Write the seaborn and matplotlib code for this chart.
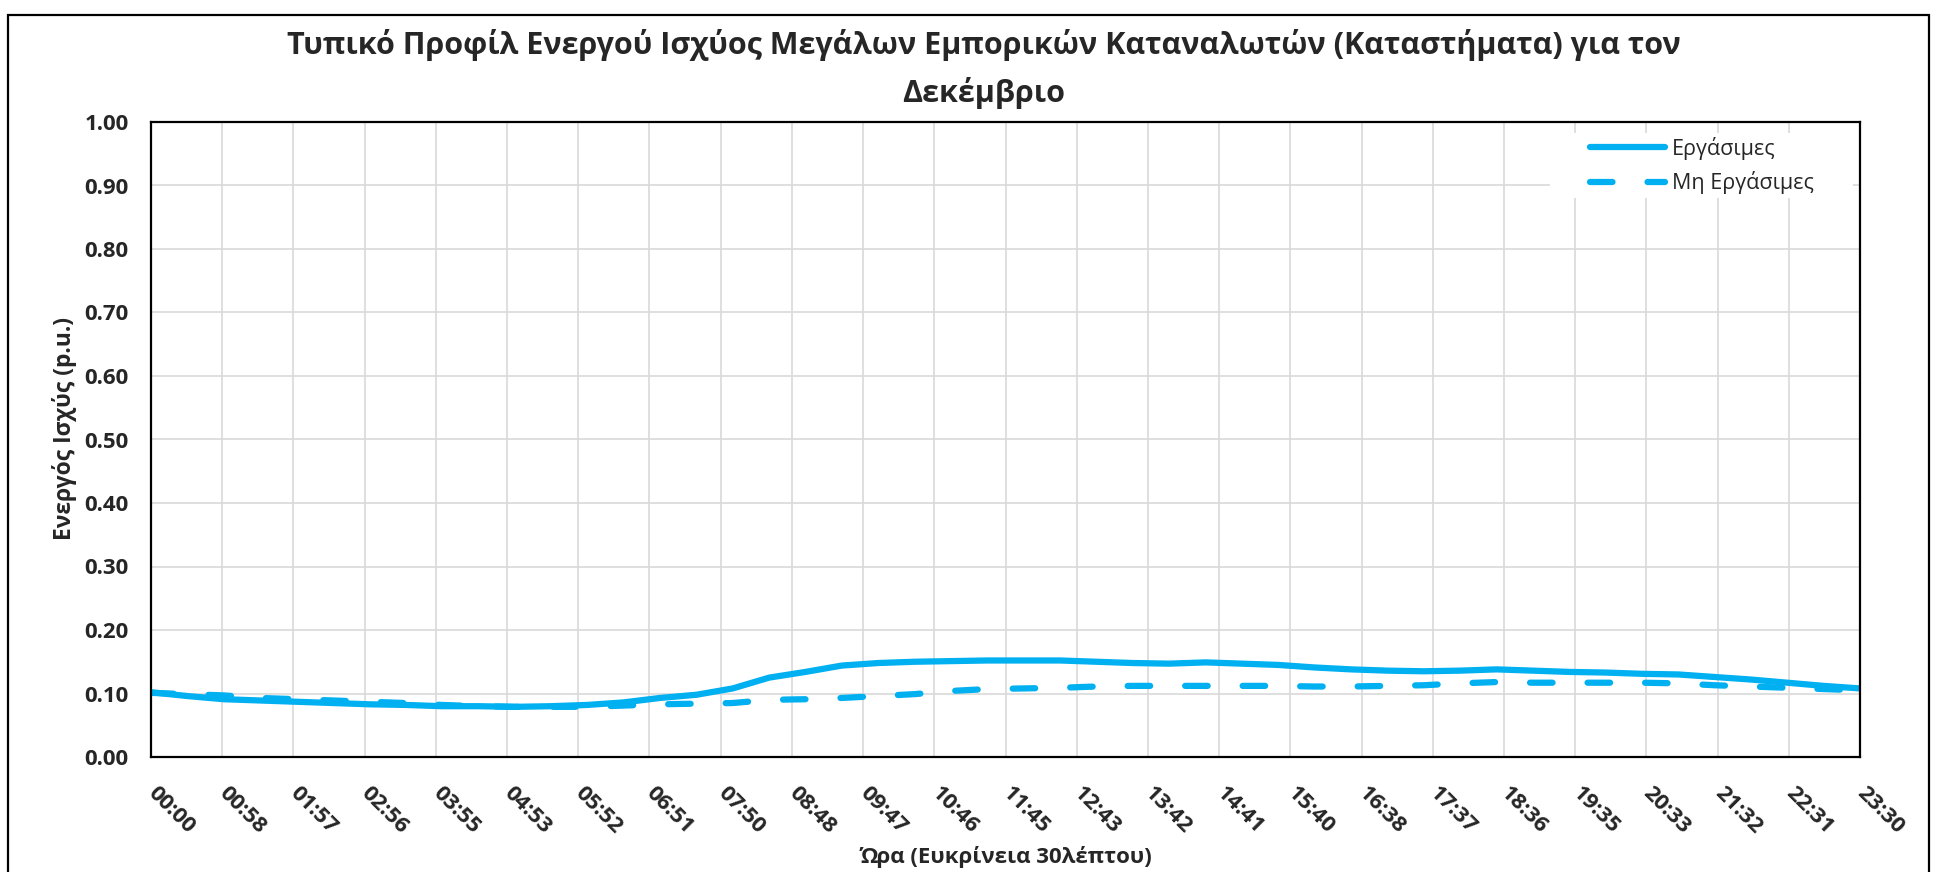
import numpy as np
import pandas as pd
import matplotlib.pyplot as plt
import seaborn as sns
from matplotlib.patches import Rectangle
from matplotlib.lines import Line2D

# half-hour resolution, x in hours
hours = np.arange(0, 24, 0.5)

working = [0.102, 0.096, 0.091, 0.089, 0.087, 0.085, 0.083, 0.082,
           0.080, 0.080, 0.079, 0.080, 0.082, 0.086, 0.093, 0.098,
           0.108, 0.125, 0.134, 0.144, 0.148, 0.150, 0.151, 0.152,
           0.152, 0.152, 0.150, 0.148, 0.147, 0.149, 0.147, 0.145,
           0.141, 0.138, 0.136, 0.135, 0.136, 0.138, 0.136, 0.134,
           0.133, 0.131, 0.130, 0.126, 0.122, 0.117, 0.112, 0.108]

non_working = [0.101, 0.099, 0.097, 0.093, 0.091, 0.089, 0.087, 0.085,
               0.082, 0.080, 0.079, 0.079, 0.079, 0.081, 0.083, 0.084,
               0.085, 0.090, 0.091, 0.093, 0.096, 0.099, 0.104, 0.107,
               0.108, 0.109, 0.111, 0.112, 0.112, 0.112, 0.112, 0.112,
               0.111, 0.111, 0.112, 0.113, 0.116, 0.118, 0.117, 0.117,
               0.117, 0.117, 0.116, 0.113, 0.111, 0.109, 0.107, 0.105]

series_names = ["Εργάσιμες", "Μη Εργάσιμες"]

x_tick_labels = ["00:00", "00:58", "01:57", "02:56", "03:55", "04:53", "05:52",
                 "06:51", "07:50", "08:48", "09:47", "10:46", "11:45", "12:43",
                 "13:42", "14:41", "15:40", "16:38", "17:37", "18:36", "19:35",
                 "20:33", "21:32", "22:31", "23:30"]
y_ticks = [0.0, 0.1, 0.2, 0.3, 0.4, 0.5, 0.6, 0.7, 0.8, 0.9, 1.0]

title = "Τυπικό Προφίλ Ενεργού Ισχύος Μεγάλων Εμπορικών Καταναλωτών (Καταστήματα) για τον"
title2 = "Δεκέμβριο"

df = pd.DataFrame({
    "hour": np.concatenate([hours, hours]),
    "value": working + non_working,
    "series": [series_names[0]] * len(hours) + [series_names[1]] * len(hours),
})

sns.set_style("white")
plt.rcParams['font.family'] = ['Open Sans', 'DejaVu Sans']

blue = "#00B0F0"
fig = plt.figure(figsize=(19.36, 8.72), dpi=100)
ax = fig.add_axes([151 / 1936, 1 - 757 / 872, 1709 / 1936, 635 / 872])

sns.lineplot(data=df, x="hour", y="value", hue="series", style="series",
             palette=[blue, blue], dashes={series_names[0]: "", series_names[1]: (3.6, 5.6)},
             linewidth=4.5, legend=False, ax=ax)
for ln in ax.get_lines():
    ln.set_solid_capstyle("round")
    ln.set_dash_capstyle("round")

ax.set_xlim(0, 23.5)
ax.set_ylim(0, 1)
ax.set_xticks(np.linspace(0, 23.5, len(x_tick_labels)))
ax.set_xticklabels(x_tick_labels, rotation=-45, ha="left", va="center",
                   rotation_mode="anchor", fontsize=16, fontweight="bold")
ax.set_yticks(y_ticks)
ax.set_yticklabels([f"{v:.2f}" for v in y_ticks], fontsize=16, fontweight="bold")
ax.tick_params(axis="x", length=0, pad=24)
ax.tick_params(axis="y", length=0, pad=16)
ax.grid(True, color="#d9d9d9", linewidth=1.2)
ax.set_axisbelow(True)
for s in ax.spines.values():
    s.set_color("black")
    s.set_linewidth(1.6)

ax.set_xlabel("Ώρα (Ευκρίνεια 30λέπτου)", fontsize=16, fontweight="bold", va="center")
ax.xaxis.set_label_coords(0.5, -0.1575)
ax.set_ylabel("Ενεργός Ισχύς (p.u.)", fontsize=16.5, fontweight="bold", va="center")
ax.yaxis.set_label_coords(-0.0509, 0.518)

# white legend background that hides the gridlines
ax.add_patch(Rectangle((0.8186, 0.880), 0.1773, 0.1027, transform=ax.transAxes,
                       facecolor="white", edgecolor="none", zorder=1.5))
handles = [Line2D([], [], color=blue, lw=4.5, solid_capstyle="round"),
           Line2D([], [], color=blue, lw=4.5, dashes=(3.6, 5.6), dash_capstyle="round")]
ax.legend(handles, series_names, loc="upper left", bbox_to_anchor=(0.842, 0.977),
          frameon=False, fontsize=15.5, handlelength=3.5, handletextpad=0.3,
          labelspacing=0.55, borderpad=0, borderaxespad=0)

fig.text(0.508, 1 - 54 / 872, title, ha="center", va="baseline",
         fontsize=22, fontweight="bold")
fig.text(0.508, 1 - 102 / 872, title2, ha="center", va="baseline",
         fontsize=22, fontweight="bold")

# outer chart border
fig.add_artist(Rectangle((8 / 1936, -0.02), (1929 - 8) / 1936, 1 - 15 / 872 + 0.02,
                         transform=fig.transFigure, fill=False, edgecolor="black", linewidth=1.6))

fig.savefig("out.png", dpi=100)
